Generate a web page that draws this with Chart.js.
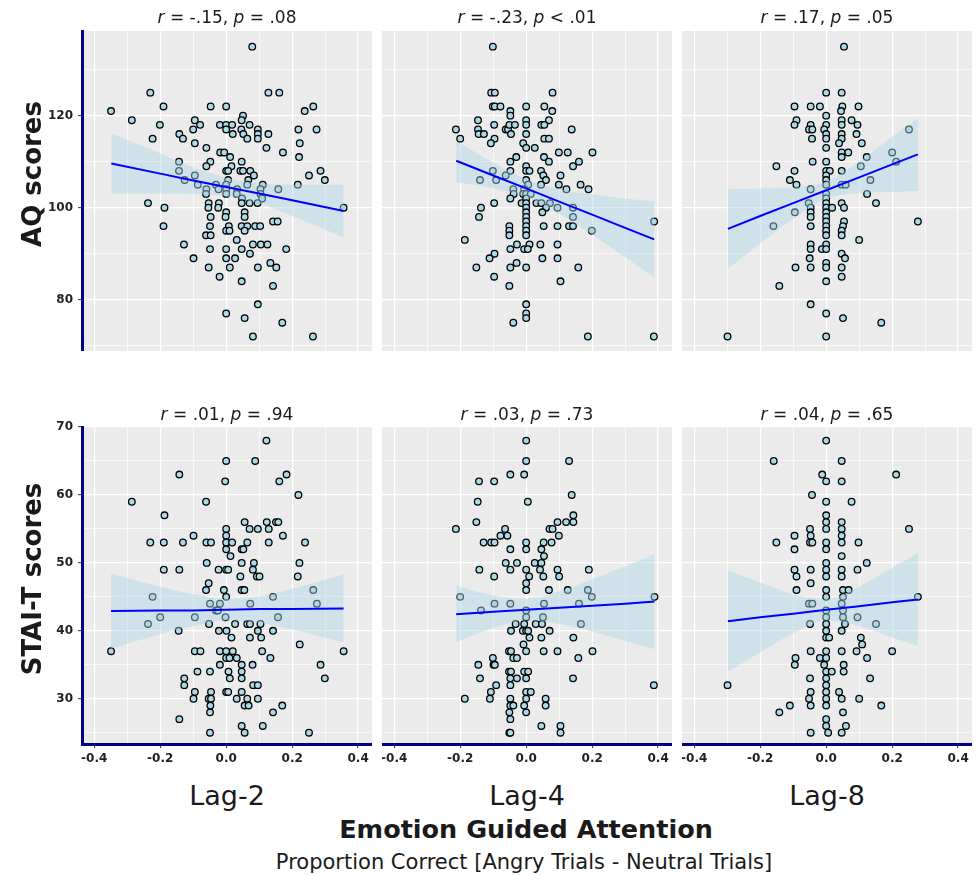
<!DOCTYPE html>
<html>
<head>
<meta charset="utf-8">
<script src="https://cdn.jsdelivr.net/npm/chart.js@4.4.1/dist/chart.umd.min.js"></script>
<style>
  body { margin: 0; width: 976px; height: 875px; background: #fff; position: relative; overflow: hidden;
         font-family: "DejaVu Sans", sans-serif; color: #1a1a1a; }
  .box { position: absolute; line-height: 0; }
  .box canvas { display: block; }
  .txt { position: absolute; white-space: nowrap; transform: translate(-50%, -50%); }
  .stat { font-size: 17px; }
  .lag { font-size: 27px; }
  .ytitle { font-size: 26px; font-weight: bold; transform: translate(-50%, -50%) rotate(-90deg); }
  .xtitle { font-size: 25.5px; font-weight: bold; }
  .xsub { font-size: 21px; }
</style>
</head>
<body>
<script>
// ---- data ----
const lagLabels = ['Lag-2', 'Lag-4', 'Lag-8'];
const rowTitles = ['AQ scores', 'STAI-T scores'];
const statR = ['-.15', '-.23', '.17', '.01', '.03', '.04'];
const statP = ['= .08', '< .01', '= .05', '= .94', '= .73', '= .65'];

const xTicks = [-0.4, -0.3, -0.2, -0.1, 0, 0.1, 0.2, 0.3, 0.4];
const aqTicks = [70, 80, 90, 100, 110, 120, 130];
const staiTicks = [25, 30, 35, 40, 45, 50, 55, 60, 65, 70];

// [emotion guided attention, score]
const aqLag2 = [
  [0.079,135],[-0.230,125],[0.128,125],[0.161,125],[-0.349,121],[-0.190,122],[-0.047,122],[0.000,122],[0.238,121],[0.264,122],
  [-0.286,119],[-0.201,118],[-0.095,119],[-0.100,117],[-0.079,118],[-0.223,115],[-0.142,116],[-0.131,115],[-0.095,114],[-0.019,118],
  [0.000,118],[0.000,117],[0.018,118],[0.020,116],[0.051,120],[0.047,119],[0.046,117],[0.052,116],[0.064,115],[0.071,118],
  [0.096,117],[0.096,116],[0.096,115],[0.128,116],[0.219,117],[0.274,117],[0.223,114],[-0.060,113],[0.122,113],[0.172,112],
  [0.221,111],[-0.018,112],[-0.006,112],[0.012,111],[-0.143,110],[-0.048,110],[-0.060,109],[0.047,110],[-0.143,108],[0.016,109],
  [0.000,108],[0.006,108],[0.043,108],[0.051,108],[0.073,108],[0.084,107],[-0.095,107],[-0.126,106],[0.006,106],[0.067,106],
  [0.251,107],[0.286,108],[0.299,106],[-0.086,105],[-0.031,105],[0.000,105],[0.064,105],[0.111,105],[0.217,105],[-0.060,104],
  [-0.023,104],[0.000,104],[0.033,104],[0.104,104],[0.158,104],
  [-0.061,103],[0.000,103],[0.032,103],[0.104,103],[0.048,102],[0.109,102],[-0.237,101],[-0.053,101],[-0.022,101],[0.047,101],
  [0.071,101],[0.095,101],[-0.187,100],[-0.054,100],[-0.024,100],[0.356,100],[0.000,99],[0.056,99],[-0.047,98],[-0.002,98],
  [0.056,98],[0.142,97],[0.156,97],[-0.190,96],[-0.049,96],[0.008,96],[0.047,96],[0.064,96],[0.088,96],[0.103,96],
  [0.000,95],[0.010,95],[0.056,95],[-0.061,94],[-0.047,94],[0.032,93],[-0.128,92],[0.081,92],[0.105,92],[0.125,92],
  [-0.049,91],[0.000,91],[0.047,91],[0.182,91],[0.072,90],[-0.099,89],[0.000,89],[0.027,89],[0.134,88],[-0.053,87],
  [0.011,87],[0.096,87],[0.152,87],[-0.020,85],[0.047,84],[0.142,83],[0.096,79],[0.000,77],[0.056,76],[0.170,75],
  [0.081,72],[0.263,72]
];
const aqLag4 = [
  [-0.101,135],[-0.106,125],[-0.095,125],[0.080,125],[-0.101,122],[-0.095,122],[-0.078,122],[0.000,122],[0.055,122],[-0.048,121],
  [0.079,121],[-0.048,120],[-0.146,119],[0.000,119],[0.069,119],[-0.213,117],[-0.097,118],[-0.146,117],[-0.144,116],[-0.128,116],
  [-0.062,117],[-0.055,117],[-0.051,118],[-0.034,118],[-0.046,116],[0.000,118],[0.000,116],[0.046,118],[0.055,118],[0.138,117],
  [-0.200,115],[-0.096,115],[-0.107,114],[0.055,115],[0.069,115],[-0.009,114],[0.000,113],[0.026,113],[0.099,112],[0.126,112],
  [0.201,112],[-0.030,111],[0.054,111],[-0.048,110],[0.069,110],[0.160,110],[0.142,109],[0.000,109],[-0.048,108],[0.000,108],
  [0.010,108],[-0.101,108],[0.045,108],[0.052,107],[-0.062,107],[0.104,107],[-0.140,106],[-0.091,106],[0.000,106],[0.060,106],
  [0.006,105],[0.045,105],[0.099,105],[0.165,105],[0.122,104],[0.189,104],[-0.039,104],[-0.006,104],
  [-0.038,103],[-0.009,103],[0.000,103],[0.014,103],[-0.048,102],[0.000,102],[-0.097,101],[-0.014,101],[0.000,101],[0.031,101],
  [0.046,101],[0.072,101],[-0.137,100],[0.000,100],[0.060,100],[0.095,100],[0.142,100],[0.000,99],[0.049,99],[-0.143,98],
  [0.000,98],[0.142,98],[0.000,97],[0.388,97],[-0.051,96],[0.000,96],[0.053,96],[0.095,96],[0.130,96],[0.142,96],
  [-0.051,95],[0.000,95],[0.199,95],[-0.051,94],[0.000,94],[-0.186,93],[-0.028,92],[0.010,92],[0.043,92],[0.095,92],
  [-0.048,91],[-0.006,91],[0.005,91],[-0.096,90],[-0.111,89],[0.049,89],[0.095,89],[-0.029,88],[-0.151,87],[-0.048,87],
  [0.000,87],[0.158,87],[-0.097,85],[0.104,84],[-0.051,83],[0.000,79],[0.000,77],[0.000,76],[-0.039,75],[0.187,72],
  [0.387,72]
];
const aqLag8 = [
  [0.054,135],[0.000,125],[0.047,125],[-0.096,122],[-0.047,122],[-0.019,122],[0.049,122],[0.098,122],[0.045,121],[0.000,120],
  [-0.090,119],[0.047,119],[0.077,119],[-0.096,118],[-0.047,118],[0.000,118],[0.047,118],[0.095,118],[-0.052,117],[-0.042,117],
  [-0.006,117],[0.000,116],[0.047,116],[0.092,116],[0.251,117],[-0.043,115],[0.000,115],[0.047,115],[0.039,114],[0.108,114],
  [0.000,113],[0.047,112],[0.067,112],[0.200,112],[0.047,111],[0.123,111],[-0.151,109],[-0.041,110],[0.000,110],[0.212,110],
  [0.105,109],[-0.096,108],[0.000,108],[0.011,108],[0.047,108],[0.000,107],[-0.110,106],[0.000,106],[0.134,106],[-0.090,105],
  [0.000,105],[0.047,105],[0.059,105],[-0.047,104],
  [0.000,103],[0.124,103],[0.000,102],[-0.053,101],[0.000,101],[0.047,101],[0.151,101],[-0.047,100],[0.000,100],[0.018,100],
  [0.054,100],[-0.095,99],[-0.047,99],[0.000,99],[-0.047,98],[0.000,98],[0.000,97],[0.054,97],[0.278,97],[-0.160,96],
  [-0.047,96],[0.000,96],[0.051,96],[0.047,95],[0.000,95],[0.000,94],[0.047,94],[0.100,93],[-0.047,92],[0.000,92],
  [-0.047,91],[-0.013,91],[0.000,91],[0.047,90],[-0.050,89],[0.057,89],[0.000,88],[-0.093,87],[-0.047,87],[0.000,87],
  [0.047,87],[0.047,85],[0.000,84],[-0.142,83],[-0.047,79],[0.000,77],[0.051,76],[0.167,75],[-0.299,72],[0.000,72]
];
const staiLag2 = [
  [0.122,68],[0.000,65],[0.088,65],[-0.142,63],[0.183,63],[-0.003,62],[0.161,62],[0.219,60],[-0.286,59],[-0.061,59],
  [-0.187,57],[0.056,56],[0.123,56],[0.151,56],[0.158,56],[0.000,55],[0.071,55],[0.096,55],[0.129,55],[-0.099,54],
  [0.000,54],[0.172,54],[-0.230,53],[-0.189,53],[-0.131,53],[-0.060,53],[-0.046,53],[0.000,53],[0.018,53],[0.064,53],
  [0.129,53],[0.239,53],[0.000,52],[0.047,52],[0.052,52],[0.013,51],[-0.059,50],[0.047,50],[0.084,50],[0.222,50],
  [-0.189,49],[-0.142,49],[-0.023,49],[0.000,49],[0.006,49],[0.081,49],[0.043,48],[0.093,48],[0.101,48],[0.217,48],
  [-0.053,47],
  [-0.061,46],[-0.007,46],[0.047,46],[0.055,46],[-0.223,45],[0.000,45],[0.142,45],[0.264,46],[-0.049,44],[-0.019,44],
  [0.073,44],[0.275,44],[-0.031,43],[-0.025,43],[-0.200,42],[-0.095,42],[-0.002,42],[0.157,42],[-0.237,41],[-0.052,41],
  [0.027,41],[0.064,41],[0.072,41],[0.104,41],[-0.144,40],[-0.022,40],[0.001,40],[0.096,40],[0.142,40],[0.016,39],
  [0.072,39],[0.106,39],[0.223,38],[-0.349,37],[-0.095,37],[-0.078,37],[-0.019,37],[0.000,37],[0.020,37],[0.109,37],
  [0.356,37],[0.000,36],[0.010,36],[0.032,36],[0.134,36],[-0.019,35],[0.047,35],[0.080,35],[0.286,35],[-0.087,34],
  [-0.049,34],[0.007,34],[0.047,34],[-0.127,33],[0.011,33],[0.047,33],[0.299,33],[-0.127,32],[0.082,32],[0.096,32],
  [-0.095,31],[-0.046,31],[0.000,31],[0.006,31],[0.047,31],[-0.099,30],[-0.053,30],[-0.046,30],[0.032,30],[0.064,30],
  [0.096,30],[-0.048,29],[0.056,29],[0.068,29],[0.170,29],[-0.049,28],[0.142,28],[-0.142,27],[0.047,26],[0.111,26],
  [-0.049,25],[0.056,25],[0.251,25]
];
const staiLag4 = [
  [0.000,68],[0.000,65],[0.130,65],[-0.048,63],[-0.006,63],[-0.143,62],[-0.097,62],[0.138,60],[-0.147,59],[0.005,59],
  [0.143,57],[-0.151,56],[0.095,56],[0.121,56],[0.143,56],[-0.213,55],[-0.064,55],[0.071,55],[0.080,55],[-0.078,54],
  [-0.057,54],[0.099,54],[-0.129,53],[-0.106,53],[-0.096,53],[0.000,53],[0.053,53],[0.077,53],[-0.048,52],[0.000,52],
  [0.046,52],[0.054,51],[-0.062,50],[-0.028,50],[0.026,50],[0.046,50],[-0.142,49],[-0.048,49],[0.000,49],[0.042,49],
  [0.095,49],[0.190,49],[-0.097,48],[0.009,48],[0.052,48],[0.100,48],[0.000,47],
  [0.000,46],[0.069,46],[0.126,46],[0.187,46],[-0.200,45],[0.199,45],[0.389,45],[-0.096,44],[-0.048,44],[0.054,44],
  [0.160,44],[-0.137,43],[0.000,43],[0.000,42],[0.051,42],[-0.032,41],[-0.006,41],[0.029,41],[0.048,41],[0.166,41],
  [-0.046,40],[-0.010,40],[0.000,40],[0.006,40],[0.071,40],[0.010,39],[0.046,39],[0.143,39],[-0.008,38],[-0.052,37],
  [-0.046,37],[0.000,37],[0.053,37],[0.095,37],[0.201,37],[-0.101,36],[-0.039,36],[-0.028,36],[0.158,36],[-0.145,35],
  [-0.099,35],[-0.095,35],[-0.052,34],[-0.046,34],[-0.006,34],[0.006,34],[-0.140,33],[-0.048,33],[-0.028,33],[0.000,33],
  [0.142,33],[-0.091,32],[-0.048,32],[0.387,32],[-0.107,31],[0.000,31],[0.014,31],[-0.186,30],[-0.110,30],[-0.048,30],
  [0.000,30],[0.059,30],[-0.048,29],[-0.039,29],[-0.006,29],[0.059,29],[-0.051,28],[0.000,28],[-0.048,27],[0.046,26],
  [0.104,26],[-0.051,25],[-0.048,25],[0.104,25]
];
const staiLag8 = [
  [0.000,68],[-0.159,65],[0.047,65],[-0.012,63],[0.212,63],[0.000,62],[0.047,62],[-0.043,60],[0.000,59],[0.077,59],
  [0.000,57],[0.000,56],[0.047,56],[-0.049,55],[0.000,55],[0.047,55],[0.251,55],[-0.096,54],[-0.047,54],[0.047,54],
  [-0.151,53],[-0.049,53],[-0.042,53],[0.000,53],[0.047,53],[0.098,53],[-0.096,52],[0.000,52],[0.047,51],[0.000,50],
  [0.123,50],[-0.096,49],[-0.047,49],[0.000,49],[0.047,49],[0.095,49],[-0.090,48],[0.000,48],[0.047,48],[-0.047,47],
  [-0.090,46],[0.000,46],[0.051,46],[0.068,46],[0.000,45],[0.051,45],[0.278,45],[-0.052,44],[-0.042,44],[0.047,44],
  [0.000,43],[0.051,43],[0.000,42],[0.051,42],[0.095,42],[-0.049,41],[0.000,41],[0.057,41],[0.151,41],[0.000,40],
  [0.047,40],[0.000,39],[0.009,39],[0.105,39],[0.109,38],[-0.047,37],[0.000,37],[0.047,37],[0.092,37],[0.200,37],
  [-0.093,36],[-0.019,36],[0.000,36],[0.124,36],[-0.095,35],[-0.006,35],[0.053,35],[0.000,34],[0.017,34],[0.053,34],
  [-0.049,33],[0.000,33],[0.133,33],[-0.299,32],[0.000,32],[-0.047,31],[0.000,31],[0.039,31],[-0.052,30],[0.000,30],
  [0.047,30],[0.100,30],[-0.110,29],[-0.047,29],[0.000,29],[0.167,29],[-0.142,28],[0.051,28],[0.000,27],[0.000,26],
  [0.060,26],[-0.047,25],[0.006,25],[0.047,25]
];

// regression fit and 95% band, sampled along x
const fitXAq2 = [-0.348, -0.2, -0.1, 0, 0.1, 0.2, 0.356];
const fitAq2  = [109.6, 107.4, 105.9, 104.5, 103.1, 101.6, 99.3];
const hiAq2   = [116.1, 111.8, 108.8, 106.5, 105.3, 105.0, 105.0];
const loAq2   = [103.1, 103.1, 103.0, 102.5, 100.9, 98.2, 93.6];

const fitXAq4 = [-0.212, -0.1, 0, 0.1, 0.2, 0.3, 0.388];
const fitAq4  = [110.2, 107.0, 104.2, 101.3, 98.5, 95.6, 93.1];
const hiAq4   = [114.5, 109.8, 106.1, 104.0, 102.9, 102.0, 101.4];
const loAq4   = [105.6, 104.2, 102.3, 98.6, 94.1, 89.2, 84.8];

const fitXAq8 = [-0.298, -0.2, -0.1, 0, 0.1, 0.2, 0.278];
const fitAq8  = [95.4, 98.2, 101.0, 103.8, 106.6, 109.4, 111.6];
const hiAq8   = [104.0, 104.2, 104.4, 105.7, 110.0, 115.4, 119.5];
const loAq8   = [86.7, 92.2, 97.6, 101.9, 103.2, 103.4, 103.6];

const fitXSt2 = [-0.349, -0.2, -0.1, 0, 0.1, 0.2, 0.356];
const fitSt2  = [42.9, 43.0, 43.0, 43.1, 43.2, 43.2, 43.3];
const hiSt2   = [48.4, 46.5, 45.4, 44.7, 45.1, 46.2, 48.3];
const loSt2   = [37.4, 39.5, 40.7, 41.5, 41.2, 40.2, 38.3];

const fitXSt4 = [-0.212, -0.1, 0, 0.1, 0.2, 0.3, 0.389];
const fitSt4  = [42.45, 42.8, 43.1, 43.4, 43.7, 44.0, 44.3];
const hiSt4   = [46.6, 45.2, 44.7, 45.8, 47.6, 49.5, 51.3];
const loSt4   = [38.3, 40.4, 41.5, 41.0, 39.9, 38.5, 37.3];

const fitXSt8 = [-0.298, -0.2, -0.1, 0, 0.1, 0.2, 0.278];
const fitSt8  = [41.4, 42.0, 42.5, 43.1, 43.6, 44.2, 44.6];
const hiSt8   = [48.9, 47.1, 45.4, 44.7, 46.5, 49.3, 51.4];
const loSt8   = [34.0, 36.8, 39.6, 41.5, 40.7, 39.0, 37.8];

// ---- layout ----
const cols = [82, 382, 682];
const panelW = 290;
const rows = [
  { top: 31, h: 320, min: 68.85, max: 138.4, ticks: aqTicks, major: 20, titleY: 17, nameY: 174 },
  { top: 427, h: 317, min: 23.34, max: 70.0, ticks: staiTicks, major: 10, titleY: 414, nameY: 579 }
];
const panels = [
  { row: 0, col: 0, pts: aqLag2, fx: fitXAq2, fy: fitAq2, hi: hiAq2, lo: loAq2 },
  { row: 0, col: 1, pts: aqLag4, fx: fitXAq4, fy: fitAq4, hi: hiAq4, lo: loAq4 },
  { row: 0, col: 2, pts: aqLag8, fx: fitXAq8, fy: fitAq8, hi: hiAq8, lo: loAq8 },
  { row: 1, col: 0, pts: staiLag2, fx: fitXSt2, fy: fitSt2, hi: hiSt2, lo: loSt2 },
  { row: 1, col: 1, pts: staiLag4, fx: fitXSt4, fy: fitSt4, hi: hiSt4, lo: loSt4 },
  { row: 1, col: 2, pts: staiLag8, fx: fitXSt8, fy: fitSt8, hi: hiSt8, lo: loSt8 }
];

const axisBlue = '#00008B';
const tickFont = { family: 'DejaVu Sans', size: 12, weight: 'bold' };

// grey panel background
const panelBg = {
  id: 'panelBg',
  beforeDraw(chart) {
    const a = chart.chartArea;
    chart.ctx.save();
    chart.ctx.fillStyle = '#EBEBEB';
    chart.ctx.fillRect(a.left, a.top, a.right - a.left, a.bottom - a.top);
    chart.ctx.restore();
  }
};

function addText(html, x, y, cls) {
  const d = document.createElement('div');
  d.className = 'txt ' + cls;
  d.style.left = x + 'px';
  d.style.top = y + 'px';
  d.innerHTML = html;
  document.body.appendChild(d);
}

function xy(xs, ys) {
  return xs.map((x, i) => ({ x: x, y: ys[i] }));
}

panels.forEach((p, i) => {
  const r = rows[p.row];
  const first = p.col === 0;
  const bottom = p.row === 1;
  const yAxisW = first ? 82 : 0;
  const xAxisH = bottom ? 26 : 0;
  const padTop = first ? 8 : 0;   // room for the top tick label

  const box = document.createElement('div');
  box.className = 'box';
  box.style.left = (cols[p.col] - yAxisW) + 'px';
  box.style.top = (r.top - padTop) + 'px';
  const cv = document.createElement('canvas');
  cv.width = panelW + yAxisW;
  cv.height = r.h + xAxisH + padTop;
  box.appendChild(cv);
  document.body.appendChild(box);

  const xMajor = v => Math.round(v * 10) % 2 === 0;
  const yMajor = v => v % r.major === 0;

  new Chart(cv, {
    type: 'scatter',
    data: {
      datasets: [
        { type: 'line', data: xy(p.fx, p.fy), borderColor: '#0000FF', borderWidth: 2,
          pointRadius: 0, fill: false, order: 0 },
        { type: 'line', data: xy(p.fx, p.hi), borderWidth: 0, pointRadius: 0,
          backgroundColor: 'rgba(173,216,230,0.45)', fill: '+1', cubicInterpolationMode: 'monotone', order: 1 },
        { type: 'line', data: xy(p.fx, p.lo), borderWidth: 0, pointRadius: 0,
          fill: false, cubicInterpolationMode: 'monotone', order: 2 },
        { data: p.pts.map(d => ({ x: d[0], y: d[1] })), pointRadius: 3.3, borderWidth: 1.3,
          backgroundColor: '#ADD8E6', borderColor: '#000000', order: 3 }
      ]
    },
    options: {
      responsive: false,
      devicePixelRatio: 1,
      animation: false,
      layout: { padding: { top: padTop, left: 0, right: 0, bottom: 0 }, autoPadding: false },
      plugins: { legend: { display: false }, tooltip: { enabled: false } },
      scales: {
        x: {
          type: 'linear', min: -0.437, max: 0.442,
          afterBuildTicks: s => { s.ticks = xTicks.map(v => ({ value: v })); },
          afterFit: s => { s.height = xAxisH; s.paddingLeft = 0; s.paddingRight = 0; },
          ticks: { display: bottom, padding: 4, color: '#222', font: tickFont,
                   callback: v => xMajor(v) ? v.toFixed(1) : '' },
          grid: {
            color: '#FFFFFF',
            lineWidth: c => (c.tick && xMajor(c.tick.value)) ? 1.3 : 0.7,
            drawTicks: bottom, tickLength: 4, tickWidth: 1,
            tickColor: c => (c.tick && xMajor(c.tick.value)) ? '#333' : 'rgba(0,0,0,0)'
          },
          border: { display: bottom, color: axisBlue, width: 3 }
        },
        y: {
          type: 'linear', min: r.min, max: r.max,
          afterBuildTicks: s => { s.ticks = r.ticks.map(v => ({ value: v })); },
          afterFit: s => { s.width = yAxisW; s.paddingTop = 0; s.paddingBottom = 0; },
          ticks: { display: first, padding: 5, color: '#222', font: tickFont,
                   callback: v => yMajor(v) ? String(v) : '' },
          grid: {
            color: '#FFFFFF',
            lineWidth: c => (c.tick && yMajor(c.tick.value)) ? 1.3 : 0.7,
            drawTicks: first, tickLength: 4, tickWidth: 1,
            tickColor: c => (c.tick && yMajor(c.tick.value)) ? '#333' : 'rgba(0,0,0,0)'
          },
          border: { display: first, color: axisBlue, width: 3 }
        }
      }
    },
    plugins: [panelBg]
  });

  const cx = cols[p.col] + panelW / 2;
  addText('<i>r</i> = ' + statR[i] + ', <i>p</i> ' + statP[i], cx, r.titleY, 'stat');
});

rows.forEach((r, k) => addText(rowTitles[k], 32, r.nameY, 'ytitle'));
cols.forEach((c, k) => addText(lagLabels[k], c + panelW / 2, 795, 'lag'));
addText('Emotion Guided Attention', 526, 829, 'xtitle');
addText('Proportion Correct [Angry Trials - Neutral Trials]', 524, 862, 'xsub');
</script>
</body>
</html>
